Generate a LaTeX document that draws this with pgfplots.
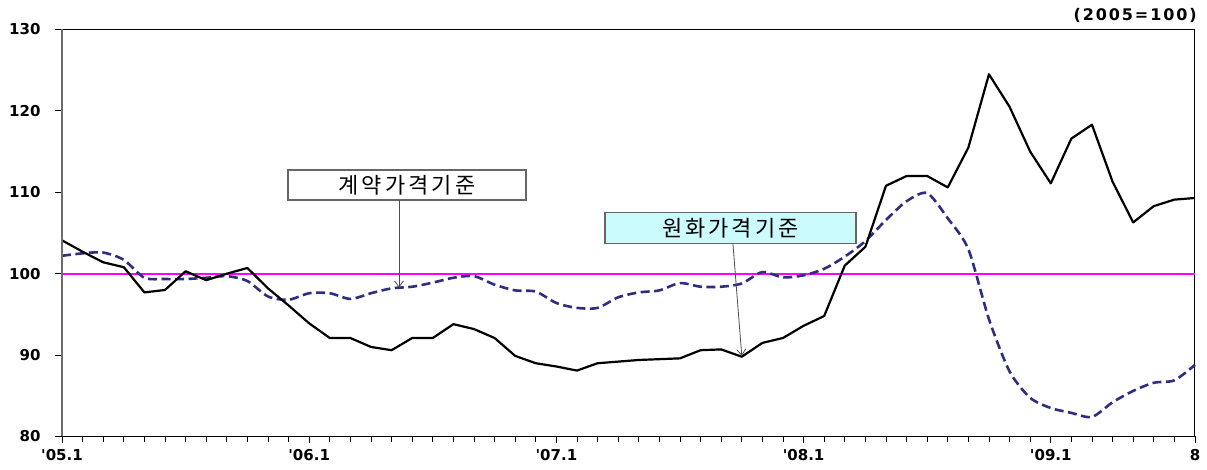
\documentclass[border=0pt]{standalone}
\usepackage{pgfplots}
\pgfplotsset{compat=1.18}
\usepackage{fontspec}
\usetikzlibrary{arrows.meta}
\newfontfamily\tickfont{DejaVu Sans}
\newfontfamily\notefont[LetterSpace=12]{DejaVu Sans}
\newfontfamily\boxfont[LetterSpace=14]{Noto Sans CJK KR}
\definecolor{navy}{HTML}{2E2E80}
\definecolor{boxcyan}{HTML}{CCFBFD}
\definecolor{refline}{RGB}{255,0,255}
\begin{document}
\begin{tikzpicture}
\path[use as bounding box] (-62pt,-33.5pt) rectangle (1145pt,436.5pt);
\begin{axis}[
  scale only axis, width=1133pt, height=407pt,
  at={(0pt,0pt)}, anchor=south west,
  xmin=0, xmax=55, ymin=80, ymax=130,
  xtick={0,12,24,36,48,55},
  xticklabels={'05.1,'06.1,'07.1,'08.1,'09.1,8},
  minor xtick={0,...,55},
  ytick={80,90,...,130},
  tick align=outside, xtick pos=bottom, ytick pos=left,
  major tick length=7pt, minor tick length=6pt,
  tick style={black, line width=0.8pt},
  axis line style={black, line width=1pt},
  /pgf/number format/assume math mode=true,
  ticklabel style={font=\tickfont\bfseries\fontsize{15}{15}\selectfont},
  yticklabel style={xshift=-11pt},
  xticklabel style={yshift=-2pt},
  clip=false,
]
\addplot[refline, line width=2pt, forget plot] table[row sep=\\] {x y\\ 0 100\\ 55 100\\};
\addplot[navy, line width=2.6pt, dash pattern=on 9pt off 4.5pt, smooth, tension=0.45] coordinates {
(0,102.2) (1,102.5) (2,102.6) (3,101.7) (4,99.5) (5,99.35) (6,99.35) (7,99.5) (8,99.7) (9,99.1)
(10,97.2) (11,96.8) (12,97.6) (13,97.6) (14,96.9) (15,97.6) (16,98.2) (17,98.4) (18,98.9) (19,99.5)
(20,99.7) (21,98.65) (22,97.95) (23,97.8) (24,96.4) (25,95.8) (26,95.8) (27,97.1) (28,97.7) (29,97.95)
(30,98.85) (31,98.4) (32,98.4) (33,98.8) (34,100.2) (35,99.55) (36,99.8) (37,100.6) (38,102.1) (39,104.0)
(40,106.6) (41,108.9) (42,109.9) (43,106.8) (44,103.0) (45,94.4) (46,88.0) (47,84.75) (48,83.5) (49,82.9)
(50,82.4) (51,84.2) (52,85.6) (53,86.6) (54,86.9) (55,88.8)};
\addplot[black, line width=2.2pt, line join=round] coordinates {
(0,104.1) (1,102.7) (2,101.4) (3,100.8) (4,97.7) (5,98.0) (6,100.3) (7,99.2) (8,100.0) (9,100.7)
(10,98.2) (11,96.1) (12,93.9) (13,92.1) (14,92.1) (15,91.0) (16,90.6) (17,92.1) (18,92.1) (19,93.8)
(20,93.2) (21,92.1) (22,89.9) (23,89.0) (24,88.6) (25,88.1) (26,89.0) (27,89.2) (28,89.4) (29,89.5)
(30,89.6) (31,90.6) (32,90.7) (33,89.8) (34,91.5) (35,92.1) (36,93.6) (37,94.8) (38,101.0) (39,103.3)
(40,110.8) (41,112.0) (42,112.0) (43,110.6) (44,115.5) (45,124.5) (46,120.5) (47,115.0) (48,111.1) (49,116.6)
(50,118.3) (51,111.3) (52,106.3) (53,108.3) (54,109.1) (55,109.3)};
% left axis in gray, bottom axis darker
\draw[gray!85!black, line width=2pt] (rel axis cs:0,0) -- (rel axis cs:0,1);
\draw[black, line width=1.6pt] (rel axis cs:0,0) -- (rel axis cs:1,0);
% annotations
\node[draw=gray!80!black, line width=1.2pt, fill=white, minimum width=238pt, minimum height=30pt, inner sep=0pt,
  font=\boxfont\fontsize{22}{22}\selectfont] (b1) at (axis cs:16.75,110.9) {계약가격기준};
\draw[gray!60!black, line width=0.8pt, -{Straight Barb[length=6pt,width=9pt]}] (axis cs:16.36,109.1) -- (axis cs:16.36,98.3);
\node[draw=gray!80!black, line width=1.2pt, fill=boxcyan, minimum width=251pt, minimum height=31pt, inner sep=0pt,
  font=\boxfont\fontsize{22}{22}\selectfont] (b2) at (axis cs:32.45,105.6) {원화가격기준};
\draw[gray!60!black, line width=0.8pt, -{Straight Barb[length=6pt,width=9pt]}] (axis cs:32.57,103.7) -- (axis cs:33.0,89.9);
\node[anchor=base east, inner sep=0pt, font=\notefont\bfseries\fontsize{16}{16}\selectfont] at ([yshift=8.6pt,xshift=2pt]rel axis cs:1,1) {(2005=100)};
\end{axis}
\end{tikzpicture}
\end{document}
